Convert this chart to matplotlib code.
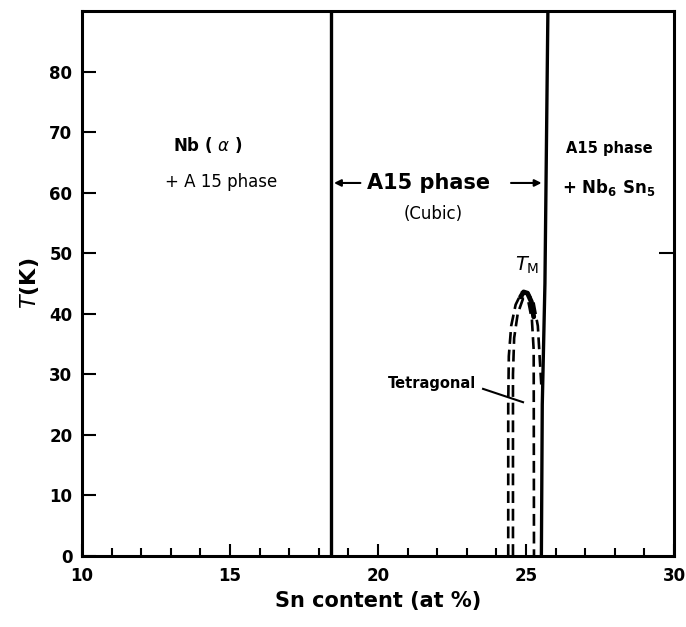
import numpy as np
import matplotlib
matplotlib.use('Agg')
import matplotlib.pyplot as plt
from matplotlib.ticker import MultipleLocator

# phase boundaries (Sn at%, T in K)
left_bound_x = [18.40, 18.40]
left_bound_T = [0, 90]
right_bound_x = [25.52, 25.55, 25.64, 25.74]
right_bound_T = [0, 25, 45, 90]

# martensitic transition curves (dashed)
outer_x = [24.40, 24.40, 24.42, 24.50, 24.65, 24.85, 25.05, 25.25, 25.40, 25.46, 25.52]
outer_T = [0, 25, 33, 38, 41.5, 43.5, 43.5, 42.0, 38.0, 33.0, 28.0]
inner_x = [24.56, 24.56, 24.60, 24.72, 24.90, 25.08, 25.20, 25.26, 25.27]
inner_T = [0, 30, 36, 40, 42.5, 42.0, 39.0, 34.0, 0]
cap_x = [24.82, 24.92, 25.05, 25.18, 25.26]
cap_T = [42.8, 43.6, 43.4, 42.0, 39.5]

x_ticks = [10, 15, 20, 25, 30]
y_ticks = [0, 10, 20, 30, 40, 50, 60, 70, 80]


def main():
    fig = plt.figure(figsize=(6.86, 6.27), dpi=100)
    ax = fig.add_axes([0.1195, 0.1132, 0.863, 0.8693])

    ax.plot(left_bound_x, left_bound_T, color='black', lw=2.4)
    ax.plot(right_bound_x, right_bound_T, color='black', lw=2.4)
    ax.plot(outer_x, outer_T, color='black', lw=1.9, dashes=(4.5, 2.2))
    ax.plot(inner_x, inner_T, color='black', lw=1.9, dashes=(4.5, 2.2))
    ax.plot(cap_x, cap_T, color='black', lw=3.5, solid_capstyle='round')

    ax.set_xlim(10, 30)
    ax.set_ylim(0, 90)
    ax.set_xticks(x_ticks)
    ax.set_yticks(y_ticks)
    ax.xaxis.set_minor_locator(MultipleLocator(1))
    ax.tick_params(axis='x', which='major', direction='in', length=9, width=1.5,
                   labelsize=12, pad=8)
    ax.tick_params(axis='x', which='minor', direction='in', length=6, width=1.5)
    ax.tick_params(axis='y', which='major', direction='in', length=10, width=1.5,
                   labelsize=12, pad=7)
    for lab in ax.get_xticklabels() + ax.get_yticklabels():
        lab.set_fontweight('bold')
    for sp in ax.spines.values():
        sp.set_linewidth(2.2)

    sec = ax.secondary_yaxis('right')
    sec.set_yticks([50])
    sec.tick_params(direction='in', length=11, width=1.5, labelright=False)
    sec.spines['right'].set_visible(False)

    ax.set_xlabel('Sn content (at %)', fontsize=15, fontweight='bold', labelpad=4)
    ax.set_ylabel(r'$\mathit{T}$(K)', fontsize=16, fontweight='bold', labelpad=6)

    ax.text(14.25, 67.8, r'Nb ( $\alpha$ )', fontsize=12, fontweight='bold',
            ha='center', va='center')
    ax.text(14.7, 61.7, '+ A 15 phase', fontsize=12, ha='center', va='center')
    ax.text(21.7, 61.6, 'A15 phase', fontsize=15, fontweight='bold',
            ha='center', va='center')
    ax.text(21.85, 56.4, '(Cubic)', fontsize=12, ha='center', va='center')
    ax.annotate('', xy=(18.42, 61.6), xytext=(19.5, 61.6),
                arrowprops=dict(arrowstyle='-|>', color='black', lw=1.5))
    ax.annotate('', xy=(25.62, 61.6), xytext=(24.4, 61.6),
                arrowprops=dict(arrowstyle='-|>', color='black', lw=1.5))
    ax.text(27.8, 67.3, 'A15 phase', fontsize=10.5, fontweight='bold',
            ha='center', va='center')
    ax.text(27.8, 60.8, r'+ Nb$_\mathbf{6}$ Sn$_\mathbf{5}$', fontsize=12,
            fontweight='bold', ha='center', va='center')
    ax.text(25.05, 48.0, r'$\mathit{T}_\mathrm{M}$', fontsize=14,
            ha='center', va='center')
    ax.text(23.3, 28.5, 'Tetragonal', fontsize=10.5, fontweight='bold',
            ha='right', va='center')
    ax.plot([23.55, 24.9], [27.6, 25.4], color='black', lw=1.5)

    fig.savefig('out.png', dpi=100)


if __name__ == '__main__':
    main()
